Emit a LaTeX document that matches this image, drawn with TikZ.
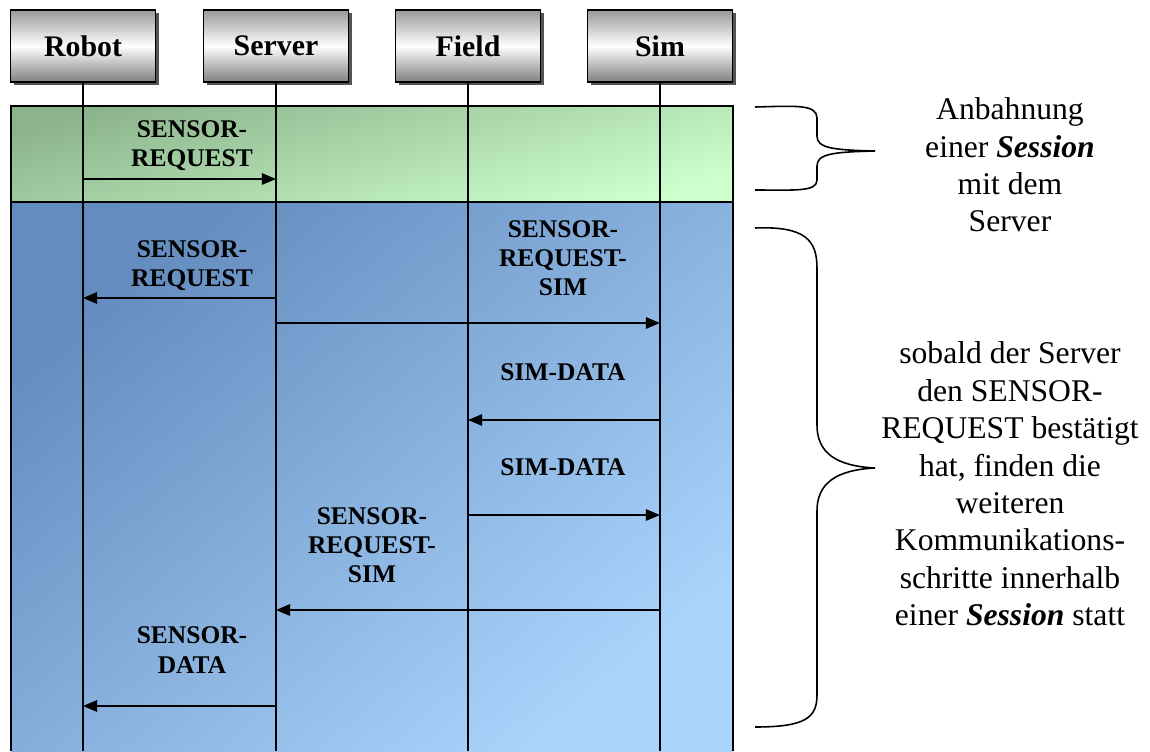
\documentclass[tikz,border=0pt]{standalone}
\usepackage{fontspec}
\setmainfont{Liberation Serif}
\usetikzlibrary{arrows.meta, shadows, positioning}
\definecolor{sesgreenA}{RGB}{140,180,140}
\definecolor{sesgreenB}{RGB}{205,255,205}
\definecolor{sesblueA}{RGB}{100,140,190}
\definecolor{sesblueB}{RGB}{170,212,252}
\definecolor{hdrgray}{RGB}{125,125,125}
\tikzset{
  actor/.style={rectangle, draw=black, line width=0.8pt,
                top color=black!40, bottom color=black!50, middle color=white,
                minimum width=2.9cm, minimum height=1.44cm,
                font=\fontsize{17}{20}\selectfont\bfseries,
                drop shadow={shadow xshift=1.8pt, shadow yshift=-1.8pt, fill=black!75, opacity=0.9}},
  lifeline/.style={line width=0.9pt},
  msg/.style={-{Triangle[length=8pt, width=6.5pt]}, line width=0.9pt},
  msglabel/.style={align=center, font=\fontsize{14.5}{16.6}\selectfont\bfseries},
  note/.style={align=center, font=\fontsize{18}{21.3}\selectfont},
  bandline/.style={line width=0.8pt},
  bracket/.style={line width=0.9pt},
}

\begin{document}
\begin{tikzpicture}[x=0.02cm, y=-0.02cm]
  \useasboundingbox (0,0) rectangle (1150,751);

  % session bands
  \shade[top color=sesgreenA, bottom color=sesgreenB, shading angle=15] (11,106) rectangle (733,202);
  \shade[top color=sesblueA, bottom color=sesblueB, shading angle=40] (11,202) rectangle (733,751);
  \draw[bandline] (11,106) rectangle (733,202);
  \draw[bandline] (11,751) -- (11,202) -- (733,202) -- (733,751);

  % actors
  \node[actor] (robot) at (83,46) {Robot};
  \node[actor] (server) at (276,46) {Server};
  \node[actor] (field) at (468,46) {Field};
  \node[actor] (sim) at (660,46) {Sim};

  \coordinate (bot) at (0,751);
  \foreach \a in {robot,server,field,sim}
    \draw[lifeline] (\a) -- (\a |- bot);

  % messages
  \coordinate (m1) at (0,179);
  \coordinate (m2) at (0,298);
  \coordinate (m3) at (0,323);
  \coordinate (m4) at (0,420);
  \coordinate (m5) at (0,515);
  \coordinate (m6) at (0,610);
  \coordinate (m7) at (0,706);

  \draw[msg] (robot |- m1) -- (server |- m1);
  \draw[msg] (server |- m2) -- (robot |- m2);
  \draw[msg] (server |- m3) -- (sim |- m3);
  \draw[msg] (sim |- m4) -- (field |- m4);
  \draw[msg] (field |- m5) -- (sim |- m5);
  \draw[msg] (sim |- m6) -- (server |- m6);
  \draw[msg] (server |- m7) -- (robot |- m7);

  \node[msglabel] (l1) at (192,146) {SENSOR-\\REQUEST};
  \node[msglabel] (l2) at (192,266) {SENSOR-\\REQUEST};
  \node[msglabel] (l3) at (563,258) {SENSOR-\\REQUEST-\\SIM};
  \node[msglabel] (l4) at (563,372) {SIM-DATA};
  \node[msglabel] (l5) at (563,467) {SIM-DATA};
  \node[msglabel] (l6) at (372,545) {SENSOR-\\REQUEST-\\SIM};
  \node[msglabel] (l7) at (192,650) {SENSOR-\\DATA};

  % braces and notes
  \draw[bracket] (755,107) .. controls (795,106) and (817,104) .. (817,118)
    -- (817,136) .. controls (817,148) and (832,150) .. (875,151)
    .. controls (832,152) and (817,154) .. (817,166)
    -- (817,180) .. controls (817,192) and (795,190) .. (755,190);
  \draw[bracket] (755,228) .. controls (805,226) and (817,240) .. (817,268)
    -- (817,425) .. controls (817,452) and (835,466) .. (875,468)
    .. controls (835,470) and (817,484) .. (817,511)
    -- (817,695) .. controls (817,718) and (805,727) .. (755,727);

  \node[note] (n1) at (1010,165) {Anbahnung\\einer \textbf{\textit{Session}}\\mit dem\\Server};
  \node[note] (n2) at (1010,484) {sobald der Server\\den SENSOR-\\REQUEST bestätigt\\hat, finden die\\weiteren\\Kommunikations-\\schritte innerhalb\\einer \textbf{\textit{Session}} statt};
\end{tikzpicture}
\end{document}
